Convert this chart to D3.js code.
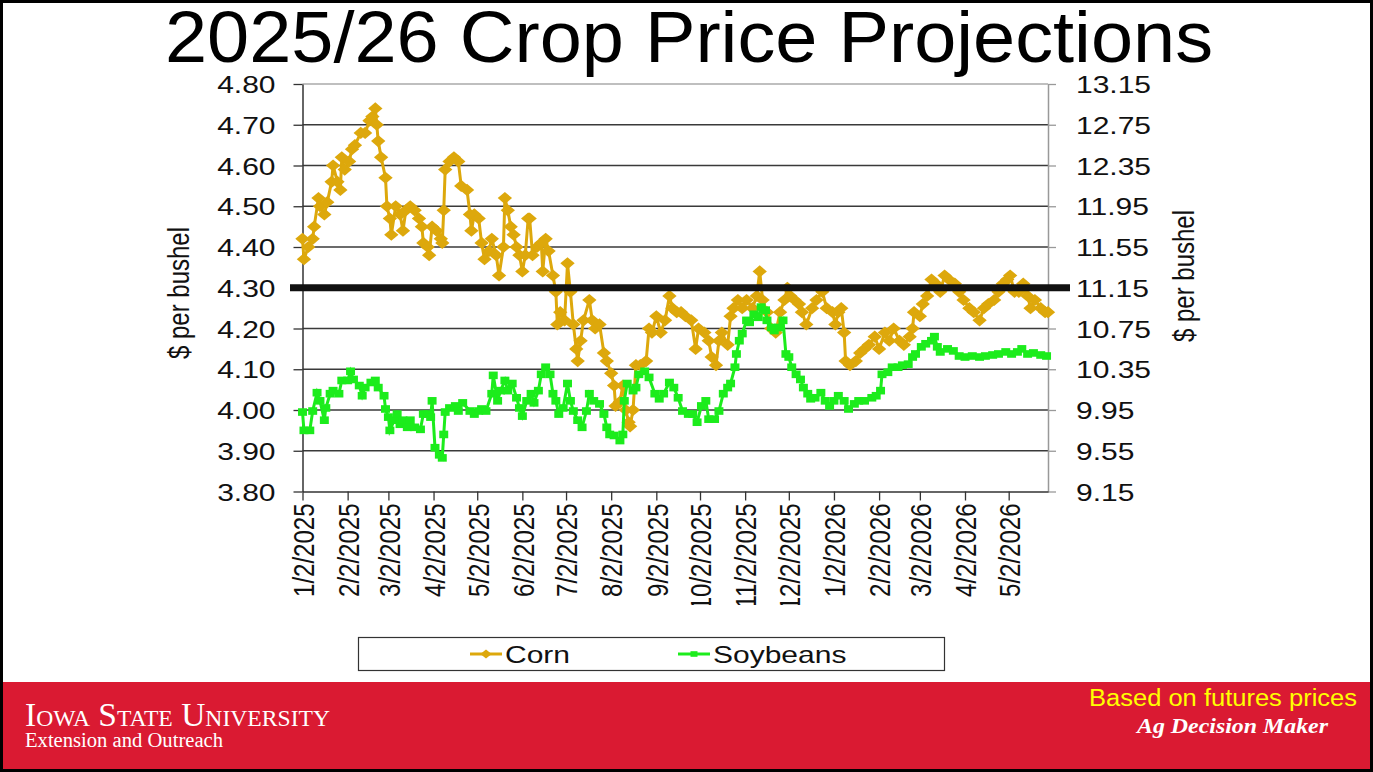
<!DOCTYPE html>
<html lang="en">
<head>
<meta charset="UTF-8">
<title>2025/26 Crop Price Projections</title>
<style>
  body { margin: 0; background: #fff; }
  svg text { font-family: "Liberation Sans", Arial, sans-serif; }
</style>
</head>
<body>
<svg id="chart" width="1373" height="772"></svg>
<script src="https://cdn.jsdelivr.net/npm/d3@7"></script>
<script>
const startDate = new Date(2025, 0, 2);
const endDate = new Date(2026, 4, 29);

const tickLabels = ["1/2/2025", "2/2/2025", "3/2/2025", "4/2/2025", "5/2/2025", "6/2/2025",
  "7/2/2025", "8/2/2025", "9/2/2025", "10/2/2025", "11/2/2025", "12/2/2025",
  "1/2/2026", "2/2/2026", "3/2/2026", "4/2/2026", "5/2/2026"];
const leftTicks = [3.80, 3.90, 4.00, 4.10, 4.20, 4.30, 4.40, 4.50, 4.60, 4.70, 4.80];
const rightTicks = [9.15, 9.55, 9.95, 10.35, 10.75, 11.15, 11.55, 11.95, 12.35, 12.75, 13.15];
const targetPrice = 4.30;

const cornDays = [0, 1, 4, 7, 8, 11, 12, 15, 17, 20, 21, 24, 26, 27, 29, 32, 34, 36, 40, 43,
  46, 48, 50, 51, 52, 54, 57, 58, 60, 61, 64, 67, 69, 71, 74, 77, 80, 82, 83, 86,
  87, 89, 92, 95, 96, 97, 98, 101, 104, 107, 109, 113, 115, 116, 118, 121, 123, 125, 128,
  130, 133, 135, 138, 139, 141, 143, 145, 147, 149, 151, 153, 155, 156, 158, 161, 164, 165, 167, 169,
  172, 174, 175, 177, 180, 182, 184, 186, 188, 189, 191, 193, 197, 199, 201, 204, 207, 209, 212, 214,
  215, 218, 220, 222, 224, 225, 227, 229, 232, 236, 238, 240, 243, 246, 249, 252, 254, 257,
  260, 263, 267, 270, 272, 276, 279, 281, 284, 286, 288, 292, 294, 296, 299, 302, 305, 309, 312, 314,
  316, 319, 322, 325, 328, 331, 333, 335, 338, 341, 343, 346, 350, 353, 357, 360, 364, 366, 368, 370,
  372, 373, 376, 380, 383,
  386, 389, 393, 396, 400, 403, 406, 410, 413, 417, 419, 420, 424, 426, 429, 432, 435, 438, 441, 444,
  448, 451, 454, 458, 461, 465, 468, 471, 475, 478, 481, 484, 486, 489, 492, 495, 498, 500, 503, 507,
  510, 512];
const cornPrices = [4.42, 4.37, 4.40, 4.42, 4.45, 4.52, 4.50, 4.48, 4.51, 4.56, 4.60, 4.56, 4.54, 4.62, 4.59, 4.61, 4.64, 4.65, 4.68, 4.68,
  4.71, 4.72, 4.74, 4.70, 4.66, 4.62, 4.57, 4.50, 4.47, 4.43, 4.50, 4.48, 4.44, 4.49, 4.50, 4.49, 4.47, 4.45, 4.41, 4.40,
  4.38, 4.45, 4.44, 4.42, 4.41, 4.49, 4.59, 4.61, 4.62, 4.61, 4.55, 4.54, 4.48, 4.44, 4.48, 4.47, 4.41, 4.37, 4.39,
  4.42, 4.38, 4.33, 4.40, 4.52, 4.49, 4.45, 4.43, 4.40, 4.38, 4.34, 4.38, 4.47, 4.47, 4.38, 4.40, 4.41, 4.34, 4.42, 4.39,
  4.33, 4.29, 4.21, 4.24, 4.22, 4.36, 4.29, 4.21, 4.15, 4.12, 4.17, 4.22, 4.27, 4.22, 4.20, 4.21, 4.14, 4.12, 4.09, 4.06,
  4.01, 4.02, 4.06, 4.00, 3.97, 3.96, 4.00, 4.11, 4.11, 4.12, 4.20, 4.19, 4.23, 4.19, 4.22, 4.28, 4.25, 4.24,
  4.24, 4.23, 4.22, 4.15, 4.20, 4.19, 4.17, 4.13, 4.11, 4.17, 4.19, 4.16, 4.23, 4.25, 4.27, 4.25, 4.27, 4.25, 4.28, 4.34,
  4.27, 4.24, 4.20, 4.19, 4.24, 4.27, 4.30, 4.28, 4.27, 4.26, 4.24, 4.21, 4.25, 4.27, 4.29, 4.25, 4.24, 4.21, 4.24, 4.25,
  4.19, 4.12, 4.11, 4.12, 4.14,
  4.15, 4.16, 4.18, 4.15, 4.19, 4.17, 4.20, 4.17, 4.16, 4.18, 4.20, 4.24, 4.23, 4.26, 4.28, 4.32, 4.31, 4.29, 4.33, 4.32,
  4.31, 4.29, 4.27, 4.25, 4.24, 4.22, 4.25, 4.26, 4.27, 4.29, 4.31, 4.32, 4.33, 4.29, 4.29, 4.31, 4.28, 4.25, 4.27, 4.25,
  4.24, 4.24];

const soyDays = [0, 1, 5, 7, 10, 12, 15, 16, 19, 21, 25, 27, 31, 33, 35, 39, 41, 43, 47, 50,
  52, 56, 57, 59, 60, 63, 65, 67, 69, 72, 74, 77, 81, 83, 86, 88, 89, 91, 94, 96,
  97, 98, 101, 105, 107, 110, 115, 118, 121, 123, 126,
  130, 131, 134, 136, 139, 141, 144, 147, 149, 151, 154, 157, 159, 162, 164, 167, 170, 172, 174, 176,
  179, 182, 184, 186, 189, 192, 195, 197, 200, 204, 207, 209, 211, 214, 218, 220, 221, 223, 227, 229,
  231, 235, 238, 242, 245, 248, 252, 255, 258,
  261, 265, 268, 271, 274, 277, 279, 283, 286, 289, 292, 294, 297, 298, 300, 302, 305, 307, 310, 313,
  315, 318, 319, 322, 324, 327, 330, 332, 334, 336, 339, 342, 344, 347, 349, 352, 356, 359, 362, 365,
  368, 372, 375, 379, 382, 386,
  391, 394, 397, 398, 402, 405, 409, 412, 416, 419, 421, 425, 428, 432, 434, 436, 438, 443, 447, 451,
  455, 460, 465, 469, 474, 478, 483, 487, 491, 494, 498, 502, 507, 511];
const soyPrices = [9.93, 9.75, 9.75, 9.94, 10.12, 10.04, 9.85, 9.97, 10.11, 10.14, 10.11, 10.24, 10.24, 10.33, 10.25, 10.19, 10.09, 10.17, 10.22, 10.24,
  10.17, 10.09, 9.96, 9.88, 9.75, 9.85, 9.91, 9.81, 9.85, 9.78, 9.85, 9.78, 9.76, 9.91, 9.91, 9.88, 10.04, 9.58, 9.51, 9.48,
  9.71, 9.93, 9.97, 9.99, 9.94, 10.02, 9.94, 9.91, 9.94, 9.96, 9.94,
  10.11, 10.29, 10.04, 10.14, 10.24, 10.14, 10.21, 10.07, 9.97, 9.89, 10.04, 10.11, 10.02, 10.14, 10.30, 10.37, 10.30, 10.11, 10.04, 9.91,
  9.97, 10.21, 10.04, 9.94, 9.85, 9.78, 9.94, 10.11, 10.04, 10.01, 9.91, 9.78, 9.71, 9.70, 9.65, 9.71, 10.04, 10.21, 10.14, 10.17,
  10.30, 10.33, 10.27, 10.11, 10.06, 10.11, 10.22, 10.17, 10.07,
  9.94, 9.91, 9.91, 9.83, 9.99, 10.04, 9.86, 9.86, 9.94, 10.11, 10.17, 10.21, 10.37, 10.50, 10.63, 10.70, 10.83, 10.81, 10.89, 10.86,
  10.96, 10.93, 10.83, 10.76, 10.73, 10.76, 10.83, 10.50, 10.47, 10.37, 10.30, 10.25, 10.17, 10.11, 10.06, 10.07, 10.12, 10.04, 9.99, 10.04,
  10.09, 10.04, 9.96, 10.01, 10.04, 10.04,
  10.07, 10.09, 10.14, 10.30, 10.32, 10.37, 10.37, 10.39, 10.40, 10.47, 10.50, 10.57, 10.60, 10.63, 10.67, 10.57, 10.52, 10.55, 10.53, 10.48,
  10.47, 10.48, 10.47, 10.48, 10.49, 10.50, 10.52, 10.50, 10.52, 10.55, 10.50, 10.51, 10.49, 10.48];

const cornColor = "#dda80c";
const soyColor = "#1cec1c";
const stretch = 1.25; // the chart on the slide is stretched sideways
const markStretch = 1.18;

const svg = d3.select("#chart");
const W = 1373, H = 772;

svg.append("rect").attr("width", W).attr("height", H).attr("fill", "#fff");

// scales
const x = d3.scaleTime().domain([startDate, endDate]).range([302.5, 1048]);
const yL = d3.scaleLinear().domain([3.8, 4.8]).range([491.5, 84]);
const yR = d3.scaleLinear().domain([9.15, 13.15]).range([491.5, 84]);
const toDate = d => d3.timeDay.offset(startDate, d);
const parse = d3.timeParse("%m/%d/%Y");
const tickDates = tickLabels.map(parse);

// title
svg.append("text")
  .attr("x", 165).attr("y", 62)
  .attr("font-size", 73)
  .attr("fill", "#000")
  .attr("textLength", 1048).attr("lengthAdjust", "spacingAndGlyphs")
  .text("2025/26 Crop Price Projections");

// gridlines
svg.append("g").selectAll("line")
  .data(leftTicks.slice(1))
  .join("line")
  .attr("x1", x.range()[0]).attr("x2", x.range()[1])
  .attr("y1", d => yL(d)).attr("y2", d => yL(d))
  .attr("stroke", d => d === 4.80 ? "#aaa" : "#3a3a3a")
  .attr("stroke-width", d => d === 4.80 ? 1.5 : 1.3);

// left axis
const gL = svg.append("g")
  .attr("transform", `translate(${x.range()[0]},0)`)
  .call(d3.axisLeft(yL).tickValues(leftTicks).tickSize(9).tickSizeOuter(0).tickFormat(d3.format(".2f")));
gL.select(".domain").attr("stroke", "#333").attr("stroke-width", 1.5);
gL.selectAll(".tick line").attr("stroke", "#333").attr("stroke-width", 1.3);
gL.selectAll("text")
  .attr("x", null).attr("dy", "0.36em")
  .attr("transform", `translate(-27,0) scale(${stretch},1)`)
  .attr("font-size", 24).attr("fill", "#111")
  .style("font-family", '"Liberation Sans", Arial, sans-serif');

// right axis
const gR = svg.append("g")
  .attr("transform", `translate(${x.range()[1]},0)`)
  .call(d3.axisRight(yR).tickValues(rightTicks).tickSize(8).tickSizeOuter(0).tickFormat(d3.format(".2f")));
gR.select(".domain").attr("stroke", "#999").attr("stroke-width", 1.5);
gR.selectAll(".tick line").attr("stroke", "#999").attr("stroke-width", 1.3);
gR.selectAll("text")
  .attr("x", null).attr("dy", "0.36em")
  .attr("transform", `translate(28,0) scale(${stretch},1)`)
  .attr("font-size", 24).attr("fill", "#111")
  .style("font-family", '"Liberation Sans", Arial, sans-serif');

// bottom axis with rotated date labels, cut off at the bottom like the slide
const axisY = yL.range()[0];
svg.append("clipPath").attr("id", "labelClip")
  .append("rect").attr("x", -10).attr("y", -20).attr("width", W).attr("height", 605 - axisY + 20);
const gB = svg.append("g")
  .attr("transform", `translate(0,${axisY})`)
  .attr("clip-path", "url(#labelClip)")
  .call(d3.axisBottom(x).tickValues(tickDates).tickSize(9).tickSizeOuter(0).tickFormat((d, i) => tickLabels[i]));
gB.select(".domain").attr("stroke", "#333").attr("stroke-width", 1.5);
gB.selectAll(".tick line").attr("stroke", "#333").attr("stroke-width", 1.3);
gB.selectAll("text")
  .attr("y", null).attr("dy", "0.36em")
  .attr("text-anchor", "end")
  .attr("transform", `translate(0,12) scale(${stretch},1) rotate(-90)`)
  .attr("font-size", 24).attr("fill", "#111")
  .style("font-family", '"Liberation Sans", Arial, sans-serif');

// axis titles
[[178, 293], [1183, 276]].forEach(p => {
  svg.append("text")
    .attr("transform", `translate(${p[0]},${p[1]}) scale(${stretch},1) rotate(-90)`)
    .attr("dy", "0.36em")
    .attr("text-anchor", "middle")
    .attr("font-size", 24).attr("fill", "#111")
    .text("$ per bushel");
});

// series
const cornData = cornDays.map((d, i) => ({ day: d, v: cornPrices[i] }));
const soyData = soyDays.map((d, i) => ({ day: d, v: soyPrices[i] }));

svg.append("path")
  .datum(cornData)
  .attr("fill", "none").attr("stroke", cornColor).attr("stroke-width", 3)
  .attr("d", d3.line().x(d => x(toDate(d.day))).y(d => yL(d.v)));
const diamond = d3.symbol(d3.symbolSquare, 74);
svg.append("g").selectAll("path")
  .data(cornData)
  .join("path")
  .attr("d", diamond)
  .attr("transform", d => `translate(${x(toDate(d.day))},${yL(d.v)}) scale(${markStretch},1) rotate(45)`)
  .attr("fill", cornColor);

svg.append("path")
  .datum(soyData)
  .attr("fill", "none").attr("stroke", soyColor).attr("stroke-width", 3)
  .attr("d", d3.line().x(d => x(toDate(d.day))).y(d => yR(d.v)));
svg.append("g").selectAll("rect")
  .data(soyData)
  .join("rect")
  .attr("x", -3.8).attr("y", -3.8).attr("width", 7.6).attr("height", 7.6)
  .attr("transform", d => `translate(${x(toDate(d.day))},${yR(d.v)}) scale(${markStretch},1)`)
  .attr("fill", soyColor);

// target price bar
svg.append("line")
  .attr("x1", 290).attr("x2", 1070)
  .attr("y1", yL(targetPrice)).attr("y2", yL(targetPrice))
  .attr("stroke", "#111").attr("stroke-width", 7);

// legend
const legend = svg.append("g");
legend.append("rect")
  .attr("x", 358.5).attr("y", 637.5).attr("width", 586).attr("height", 33)
  .attr("fill", "#fff").attr("stroke", "#333").attr("stroke-width", 1.2);
const items = [
  { name: "Corn", color: cornColor, x0: 470, shape: "diamond" },
  { name: "Soybeans", color: soyColor, x0: 678, shape: "square" }
];
items.forEach(it => {
  const g = legend.append("g").attr("transform", `translate(${it.x0},654)`);
  g.append("line").attr("x1", 0).attr("x2", 32).attr("stroke", it.color).attr("stroke-width", 3);
  if (it.shape === "diamond") {
    g.append("path").attr("d", d3.symbol(d3.symbolSquare, 40))
      .attr("transform", `translate(16,0) scale(${stretch},1) rotate(45)`).attr("fill", it.color);
  } else {
    g.append("rect").attr("x", -2.8).attr("y", -2.8).attr("width", 5.6).attr("height", 5.6)
      .attr("transform", `translate(16,0) scale(${stretch},1)`).attr("fill", it.color);
  }
  g.append("text")
    .attr("transform", `translate(35,0) scale(${stretch},1)`)
    .attr("dy", "0.36em")
    .attr("font-size", 24).attr("fill", "#111")
    .text(it.name);
});

// footer band
svg.append("rect")
  .attr("x", 0).attr("y", 682).attr("width", W).attr("height", H - 682)
  .attr("fill", "#da1a32");
svg.append("text")
  .attr("x", 25).attr("y", 726)
  .attr("font-size", 34).attr("fill", "#fff")
  .attr("textLength", 305).attr("lengthAdjust", "spacingAndGlyphs")
  .style("font-family", '"Liberation Serif", "DejaVu Serif", serif')
  .style("font-variant", "small-caps")
  .text("Iowa State University");
svg.append("text")
  .attr("x", 25).attr("y", 747)
  .attr("font-size", 20).attr("fill", "#fff")
  .attr("textLength", 198).attr("lengthAdjust", "spacingAndGlyphs")
  .style("font-family", '"Liberation Serif", "DejaVu Serif", serif')
  .text("Extension and Outreach");
svg.append("text")
  .attr("x", 1357).attr("y", 706)
  .attr("text-anchor", "end")
  .attr("font-size", 23).attr("fill", "#ffff00")
  .attr("textLength", 268).attr("lengthAdjust", "spacingAndGlyphs")
  .text("Based on futures prices");
svg.append("text")
  .attr("x", 1328).attr("y", 733)
  .attr("text-anchor", "end")
  .attr("font-size", 22).attr("fill", "#fff")
  .attr("font-weight", "bold").attr("font-style", "italic")
  .attr("textLength", 191).attr("lengthAdjust", "spacingAndGlyphs")
  .style("font-family", '"Liberation Serif", "DejaVu Serif", serif')
  .text("Ag Decision Maker");

// slide frame
svg.append("rect")
  .attr("x", 1.5).attr("y", 1.5).attr("width", W - 3).attr("height", H - 3)
  .attr("fill", "none").attr("stroke", "#000").attr("stroke-width", 3);
</script>
</body>
</html>
